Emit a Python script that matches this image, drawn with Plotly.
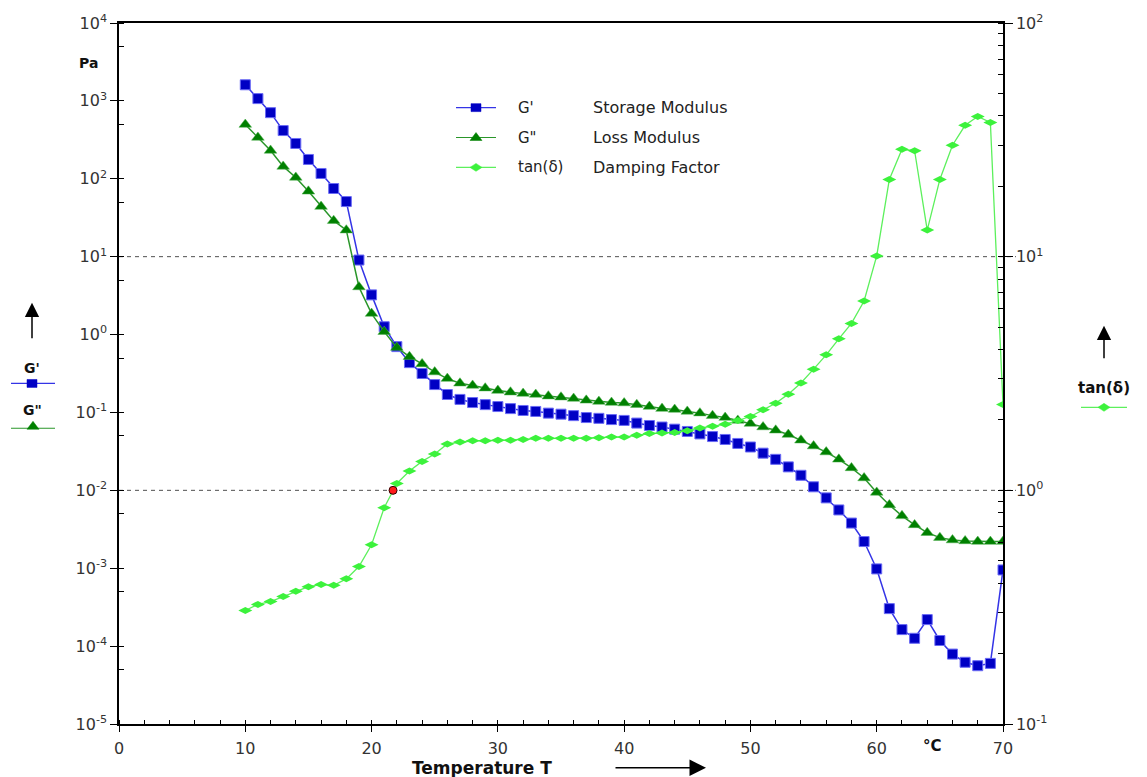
import plotly.graph_objects as go

# Temperature sweep (°C)
temperature = list(range(10, 71))

# Storage modulus G' (Pa)
g_storage = [
    1610, 1070, 706, 416, 284, 177, 117, 75, 51, 9.05,
    3.23, 1.26, 0.70, 0.436, 0.316, 0.228, 0.170, 0.147, 0.134, 0.126,
    0.119, 0.112, 0.106, 0.103, 0.098, 0.095, 0.091, 0.086, 0.084, 0.081,
    0.079, 0.073, 0.068, 0.065, 0.061, 0.057, 0.053, 0.049, 0.045, 0.040,
    0.036, 0.030, 0.025, 0.020, 0.0156, 0.0111, 0.0080, 0.0056, 0.0038, 0.0022,
    0.00098, 0.000303, 0.000163, 0.000126, 0.000219, 0.000118, 0.000079, 0.000062, 0.000056, 0.000060,
    0.00095,
]

# Loss modulus G'' (Pa)
g_loss = [
    497, 339, 231, 144, 104, 69, 44, 29, 21.9, 4.08,
    1.86, 1.09, 0.68, 0.52, 0.42, 0.33, 0.272, 0.237, 0.222, 0.205,
    0.191, 0.182, 0.175, 0.170, 0.162, 0.157, 0.151, 0.143, 0.138, 0.134,
    0.132, 0.126, 0.119, 0.112, 0.109, 0.103, 0.098, 0.091, 0.086, 0.079,
    0.072, 0.065, 0.059, 0.052, 0.044, 0.037, 0.031, 0.025, 0.0194, 0.0144,
    0.0094, 0.0065, 0.0047, 0.0036, 0.00286, 0.00247, 0.0023, 0.00224, 0.0022, 0.0022,
    0.0022,
]

# Damping factor tan(δ)
tan_delta = [
    0.306, 0.325, 0.334, 0.351, 0.370, 0.387, 0.395, 0.392, 0.418, 0.472,
    0.585, 0.843, 1.07, 1.21, 1.33, 1.43, 1.58, 1.61, 1.63, 1.63,
    1.64, 1.64, 1.65, 1.67, 1.67, 1.67, 1.67, 1.67, 1.68, 1.69,
    1.69, 1.72, 1.75, 1.76, 1.77, 1.80, 1.85, 1.88, 1.92, 1.99,
    2.07, 2.21, 2.36, 2.58, 2.88, 3.30, 3.80, 4.45, 5.18, 6.46,
    10.07, 21.4, 28.8, 28.4, 13.0, 21.4, 30.0, 36.5, 39.8, 37.5,
    2.33,
]

# Gel point: tan(δ) = 1
crossover_temp = [21.7]
crossover_tan = [1.0]

# Axis ticks
x_ticks = [0, 10, 20, 30, 40, 50, 60, 70]
left_exponents = list(range(-5, 5))
right_exponents = [-1, 0, 1, 2]
reference_levels = [10, 0.01]

BLUE_FILL, BLUE_LINE = "#0000c4", "#3434e6"
GREEN_FILL, GREEN_LINE = "#008000", "#2a962a"
LIME_FILL, LIME_LINE = "#3cf23c", "#5cf05c"
TXT = "#222222"
FONT = "DejaVu Sans"

# Plot area in pixels
L, R, T, B = 119, 1003, 20, 724
W, H = R - L, B - T


def px(x):
    return (x - L) / W


def py(y):
    return (B - y) / H


fig = go.Figure()

fig.add_trace(go.Scatter(
    x=temperature, y=g_storage, mode="lines+markers", name="G'",
    line=dict(color=BLUE_LINE, width=1.5),
    marker=dict(symbol="square", size=10, color=BLUE_FILL, line=dict(color="#6a6af5", width=1)),
    showlegend=False,
))
fig.add_trace(go.Scatter(
    x=temperature, y=g_loss, mode="lines+markers", name='G"',
    line=dict(color=GREEN_LINE, width=1.5),
    marker=dict(symbol="triangle-up", size=11, color=GREEN_FILL, line=dict(color="#50b050", width=0.5)),
    showlegend=False,
))
fig.add_trace(go.Scatter(
    x=temperature, y=tan_delta, mode="lines+markers", name="tan(δ)", yaxis="y2",
    line=dict(color=LIME_LINE, width=1.3),
    marker=dict(symbol="diamond-wide", size=10, color=LIME_FILL, line=dict(width=0)),
    showlegend=False,
))
fig.add_trace(go.Scatter(
    x=crossover_temp, y=crossover_tan, mode="markers", yaxis="y2",
    marker=dict(symbol="circle", size=8, color="#ff1a1a", line=dict(color="#300000", width=1)),
    showlegend=False,
))

shapes = []
# dashed reference levels
for lv in reference_levels:
    shapes.append(dict(type="line", xref="paper", yref="y", x0=0, x1=px(1016), y0=lv, y1=lv,
                       line=dict(color="#505050", width=1, dash="4px,4px"), layer="below"))


def key_line(x0, x1, y, color):
    shapes.append(dict(type="line", xref="paper", yref="paper",
                       x0=px(x0), x1=px(x1), y0=py(y), y1=py(y), line=dict(color=color, width=1.2)))


def poly(points, color):
    path = "M " + " L ".join(f"{px(a):.5f},{py(b):.5f}" for a, b in points) + " Z"
    shapes.append(dict(type="path", xref="paper", yref="paper", path=path,
                       fillcolor=color, line=dict(color=color, width=0.5)))


def square(cx, cy, color):
    poly([(cx - 5, cy - 4), (cx + 5, cy - 4), (cx + 5, cy + 4), (cx - 5, cy + 4)], color)


def triangle(cx, cy, color):
    poly([(cx, cy - 5), (cx + 6, cy + 3), (cx - 6, cy + 3)], color)


def diamond(cx, cy, color):
    poly([(cx - 6, cy), (cx, cy - 4), (cx + 6, cy), (cx, cy + 4)], color)


# in-plot key
key_rows = [
    (105, BLUE_LINE, BLUE_FILL, square, "G'", "Storage Modulus"),
    (135, GREEN_LINE, GREEN_FILL, triangle, 'G"', "Loss Modulus"),
    (165, LIME_LINE, LIME_FILL, diamond, "tan(δ)", "Damping Factor"),
]
annotations = []
for ky, lc, fc, glyph, sym, desc in key_rows:
    key_line(456, 496, ky, lc)
    glyph(476, ky, fc)
    annotations.append(dict(x=px(516), y=py(ky), xref="paper", yref="paper", text=sym,
                            showarrow=False, xanchor="left", yanchor="middle",
                            font=dict(family=FONT, size=15, color=TXT)))
    annotations.append(dict(x=px(591), y=py(ky), xref="paper", yref="paper", text=desc,
                            showarrow=False, xanchor="left", yanchor="middle",
                            font=dict(family=FONT, size=16, color=TXT)))

# left axis key
key_line(11, 55, 382, BLUE_LINE)
square(32, 382, BLUE_FILL)
key_line(11, 55, 427, GREEN_LINE)
triangle(33, 425, GREEN_FILL)
# right axis key
key_line(1081, 1127, 406, LIME_LINE)
diamond(1104, 406, LIME_FILL)

bold = dict(family=FONT, size=14, color="#111111", weight="bold")


def label(x, y, text, size=14, xanchor="center"):
    annotations.append(dict(x=px(x), y=py(y), xref="paper", yref="paper", text=text,
                            showarrow=False, xanchor=xanchor, yanchor="middle",
                            font=dict(bold, size=size)))


def up_arrow(x, y_head, y_tail):
    annotations.append(dict(x=px(x), y=py(y_head), xref="paper", yref="paper", text="",
                            showarrow=True, ax=0, ay=y_tail - y_head, axref="pixel", ayref="pixel",
                            arrowhead=2, arrowsize=1.9, arrowwidth=1.5, arrowcolor="#000000"))


label(88, 60, "Pa", 14)
label(32, 366, "G'", 14)
label(32, 409, 'G"', 14)
label(1104, 387, "tan(δ)", 15)
label(932, 746, "°C", 15)
label(482, 768, "Temperature T", 17)
up_arrow(32, 301, 338)
up_arrow(1104, 324, 358)
annotations.append(dict(x=px(706), y=py(768), xref="paper", yref="paper", text="",
                        showarrow=True, ax=-92, ay=0, axref="pixel", ayref="pixel",
                        arrowhead=2, arrowsize=2.2, arrowwidth=1.5, arrowcolor="#000000"))

tickfont = dict(family=FONT, size=16, color="#333333")

left_minor = [5 * 10.0 ** k for k in range(-5, 4)] + [10.0 ** k for k in left_exponents]
right_minor = [m * 10.0 ** k for k in range(-1, 2) for m in range(1, 10)] + [100]

fig.update_layout(
    width=1147, height=777,
    margin=dict(l=L, r=1147 - R, t=T, b=777 - B),
    paper_bgcolor="white", plot_bgcolor="white",
    showlegend=False,
    xaxis=dict(
        range=[0, 70], tickmode="array", tickvals=x_ticks,
        ticks="outside", ticklen=6, tickcolor="black", tickwidth=1,
        showline=True, linecolor="black", linewidth=1.5, mirror=True,
        showgrid=False, zeroline=False, tickfont=tickfont, ticklabelstandoff=3,
        minor=dict(tickmode="array", tickvals=list(range(0, 71, 2)), ticks="inside",
                   ticklen=4, tickcolor="black", showgrid=False),
    ),
    yaxis=dict(
        type="log", range=[-5, 4], tickmode="array",
        tickvals=[10.0 ** k for k in left_exponents],
        ticktext=[f"10<sup>{k}</sup>" for k in left_exponents],
        ticks="outside", ticklen=7, tickcolor="black",
        showline=True, linecolor="black", linewidth=1.5,
        showgrid=False, zeroline=False, tickfont=tickfont,
        minor=dict(tickmode="array", tickvals=left_minor, ticks="inside",
                   ticklen=5, tickcolor="black", showgrid=False),
    ),
    yaxis2=dict(
        type="log", range=[-1, 2], overlaying="y", side="right", anchor="x",
        tickmode="array",
        tickvals=[10.0 ** k for k in right_exponents],
        ticktext=[f"10<sup>{k}</sup>" for k in right_exponents],
        ticks="outside", ticklen=8, tickcolor="black",
        showline=True, linecolor="black", linewidth=1.5,
        showgrid=False, zeroline=False, tickfont=tickfont,
        minor=dict(tickmode="array", tickvals=right_minor, ticks="inside",
                   ticklen=5, tickcolor="black", showgrid=False),
    ),
    shapes=shapes,
    annotations=annotations,
)

fig.write_html("out.html")
